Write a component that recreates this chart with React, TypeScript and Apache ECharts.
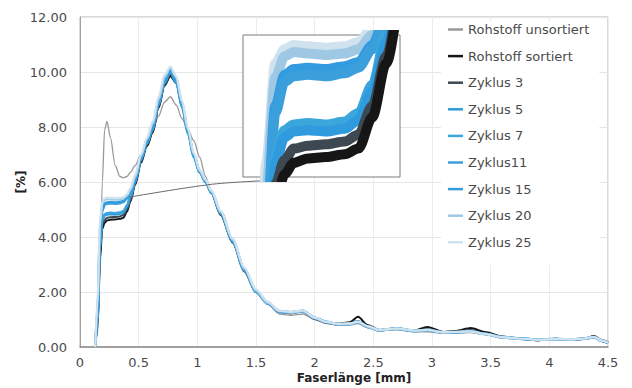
import React, { useEffect, useRef } from "react";
import * as echarts from "echarts";

const xs = [0.13, 0.15, 0.17, 0.19, 0.21, 0.23, 0.26, 0.30, 0.34, 0.37, 0.40, 0.43, 0.47, 0.52, 0.57, 0.62, 0.67, 0.72, 0.77, 0.82, 0.87, 0.92, 0.97, 1.02, 1.07, 1.12, 1.20, 1.30, 1.40, 1.50, 1.60, 1.70, 1.80, 1.90, 2.00, 2.10, 2.20, 2.30, 2.37, 2.45, 2.55, 2.70, 2.85, 2.96, 3.10, 3.20, 3.33, 3.45, 3.60, 3.75, 3.90, 4.05, 4.20, 4.30, 4.38, 4.45, 4.50];

const rohUnsortiert = [0, 0.5, 2.5, 6.0, 7.9, 8.2, 7.6, 6.6, 6.2, 6.15, 6.2, 6.35, 6.6, 7.0, 7.5, 7.9, 8.4, 8.9, 9.1, 8.8, 8.3, 7.9, 7.5, 6.9, 6.2, 5.6, 4.8, 3.8, 2.8, 2.0, 1.55, 1.2, 1.15, 1.2, 1.0, 0.85, 0.8, 0.8, 0.85, 0.7, 0.6, 0.62, 0.55, 0.55, 0.5, 0.5, 0.52, 0.45, 0.35, 0.3, 0.25, 0.28, 0.25, 0.28, 0.33, 0.2, 0.12];
const rohSortiert = [0, 0.8, 3.2, 4.3, 4.52, 4.6, 4.63, 4.64, 4.66, 4.7, 4.92, 5.3, 5.9, 6.7, 7.3, 7.8, 8.7, 9.5, 9.85, 9.6, 8.8, 7.9, 7.0, 6.4, 6.0, 5.6, 4.8, 3.85, 2.8, 2.0, 1.6, 1.3, 1.25, 1.3, 1.05, 0.9, 0.85, 0.9, 1.1, 0.8, 0.62, 0.68, 0.6, 0.73, 0.55, 0.58, 0.69, 0.55, 0.38, 0.3, 0.25, 0.3, 0.27, 0.3, 0.4, 0.25, 0.18];
const zyklus3 = [0, 0.9, 3.4, 4.45, 4.62, 4.7, 4.72, 4.73, 4.75, 4.8, 5.0, 5.35, 5.95, 6.75, 7.35, 7.85, 8.75, 9.55, 9.9, 9.6, 8.75, 7.85, 6.95, 6.35, 6.0, 5.6, 4.8, 3.8, 2.75, 2.0, 1.6, 1.28, 1.22, 1.3, 1.02, 0.88, 0.8, 0.85, 0.95, 0.75, 0.6, 0.66, 0.58, 0.65, 0.52, 0.55, 0.62, 0.5, 0.36, 0.3, 0.25, 0.28, 0.26, 0.3, 0.36, 0.22, 0.15];
const zyklus5 = [0, 1.0, 3.6, 4.6, 4.78, 4.82, 4.83, 4.82, 4.84, 4.9, 5.1, 5.45, 6.0, 6.8, 7.4, 7.9, 8.8, 9.6, 10.0, 9.6, 8.7, 7.75, 6.9, 6.35, 6.0, 5.6, 4.85, 3.85, 2.8, 2.0, 1.58, 1.28, 1.25, 1.3, 1.05, 0.9, 0.82, 0.84, 0.92, 0.74, 0.6, 0.66, 0.58, 0.62, 0.52, 0.54, 0.58, 0.48, 0.35, 0.3, 0.26, 0.28, 0.27, 0.3, 0.36, 0.22, 0.15];
const zyklus7 = [0, 1.1, 3.7, 4.65, 4.83, 4.87, 4.88, 4.87, 4.89, 4.95, 5.15, 5.5, 6.05, 6.85, 7.45, 7.95, 8.85, 9.65, 10.05, 9.65, 8.75, 7.8, 6.95, 6.4, 6.05, 5.65, 4.9, 3.9, 2.85, 2.05, 1.6, 1.3, 1.27, 1.32, 1.07, 0.92, 0.84, 0.86, 0.93, 0.76, 0.62, 0.68, 0.6, 0.63, 0.54, 0.55, 0.57, 0.48, 0.36, 0.31, 0.27, 0.29, 0.28, 0.31, 0.37, 0.23, 0.16];
const zyklus11 = [0, 1.3, 4.0, 4.95, 5.17, 5.21, 5.22, 5.21, 5.23, 5.27, 5.4, 5.62, 6.1, 6.85, 7.45, 8.0, 8.9, 9.7, 10.05, 9.7, 8.8, 7.8, 6.9, 6.35, 6.0, 5.6, 4.85, 3.85, 2.8, 2.0, 1.58, 1.27, 1.24, 1.3, 1.05, 0.9, 0.82, 0.83, 0.9, 0.73, 0.6, 0.66, 0.58, 0.6, 0.52, 0.53, 0.56, 0.47, 0.35, 0.3, 0.26, 0.28, 0.27, 0.3, 0.35, 0.22, 0.15];
const zyklus15 = [0, 1.4, 4.1, 5.0, 5.22, 5.26, 5.27, 5.26, 5.28, 5.31, 5.43, 5.65, 6.12, 6.88, 7.5, 8.05, 8.95, 9.75, 10.1, 9.75, 8.85, 7.85, 6.95, 6.4, 6.05, 5.65, 4.9, 3.9, 2.85, 2.05, 1.62, 1.3, 1.26, 1.32, 1.06, 0.91, 0.83, 0.85, 0.91, 0.75, 0.61, 0.67, 0.59, 0.62, 0.53, 0.54, 0.57, 0.48, 0.36, 0.31, 0.27, 0.29, 0.28, 0.31, 0.37, 0.23, 0.16];
const zyklus20 = [0, 1.6, 4.4, 5.2, 5.35, 5.38, 5.37, 5.36, 5.37, 5.4, 5.5, 5.72, 6.18, 6.95, 7.55, 8.1, 9.0, 9.8, 10.15, 9.8, 8.9, 7.9, 7.0, 6.4, 6.05, 5.65, 4.9, 3.9, 2.85, 2.05, 1.6, 1.3, 1.25, 1.3, 1.05, 0.9, 0.82, 0.84, 0.9, 0.74, 0.6, 0.66, 0.58, 0.61, 0.52, 0.54, 0.56, 0.47, 0.35, 0.3, 0.26, 0.28, 0.27, 0.3, 0.36, 0.22, 0.15];
const zyklus25 = [0, 1.8, 4.6, 5.3, 5.4, 5.43, 5.42, 5.41, 5.42, 5.45, 5.55, 5.78, 6.25, 7.0, 7.6, 8.2, 9.1, 9.9, 10.2, 9.85, 8.95, 7.95, 7.05, 6.45, 6.1, 5.7, 4.95, 3.95, 2.9, 2.1, 1.65, 1.32, 1.28, 1.33, 1.07, 0.92, 0.84, 0.86, 0.92, 0.76, 0.62, 0.68, 0.6, 0.62, 0.54, 0.55, 0.57, 0.48, 0.36, 0.31, 0.27, 0.29, 0.28, 0.31, 0.37, 0.23, 0.16];

const seriesNames = ["Rohstoff unsortiert", "Rohstoff sortiert", "Zyklus 3", "Zyklus 5", "Zyklus 7", "Zyklus11", "Zyklus 15", "Zyklus 20", "Zyklus 25"];
const seriesValues = [rohUnsortiert, rohSortiert, zyklus3, zyklus5, zyklus7, zyklus11, zyklus15, zyklus20, zyklus25];
const seriesColors = ["#999999", "#161616", "#3d4852", "#2f9ade", "#3aa6dc", "#3b9fdc", "#339ce0", "#9fc8e4", "#cfe2ee"];
const seriesWidths = [1.3, 2, 2, 2.4, 2.4, 2.4, 2.4, 2.2, 2.2];

const yTicks = [0, 2, 4, 6, 8, 10, 12];
const xTicks = [0, 0.5, 1, 1.5, 2, 2.5, 3, 3.5, 4, 4.5];

// connector from the zoomed region to the inset
const connectorPoints = [[0.42, 5.45], [1.13, 5.92], [1.68, 6.07]];
// zoom window shown in the inset
const insetX = [0.12, 0.46];
const insetY = [4.5, 5.5];

const FONT = "DejaVu Sans";

export default function App() {
  const ref = useRef<HTMLDivElement>(null);
  useEffect(() => {
    const chart = echarts.init(ref.current!, null, { renderer: "svg" });
    const mainSeries = seriesNames.map((name, i) => ({
      name,
      type: "line",
      xAxisIndex: 0,
      yAxisIndex: 0,
      data: xs.map((x, j) => [x, seriesValues[i][j]]),
      symbol: "none",
      smooth: 0.3,
      smoothMonotone: "x",
      color: seriesColors[i],
      lineStyle: { color: seriesColors[i], width: seriesWidths[i] },
      z: 2,
    }));
    const insetOrder = [8, 7, 6, 5, 4, 3, 2, 1];
    const insetSeries = insetOrder.map((i) => ({
      name: seriesNames[i],
      type: "line",
      xAxisIndex: 1,
      yAxisIndex: 1,
      data: xs.map((x, j) => [x, seriesValues[i][j]]),
      symbol: "none",
      smooth: 0.3,
      smoothMonotone: "x",
      clip: true,
      color: seriesColors[i],
      lineStyle: { color: seriesColors[i], width: 10 },
      z: 7,
    }));
    const labelStyle = { fontFamily: FONT, fontSize: 13, color: "#4a4a4a" };
    chart.setOption({
      animation: false,
      backgroundColor: "#ffffff",
      textStyle: { fontFamily: FONT },
      grid: [
        { left: 80, top: 17, right: 24, bottom: 41, outerBoundsMode: "none", containLabel: false, show: true, borderColor: "#b5b5b5", borderWidth: 1, backgroundColor: "transparent" },
        { left: 243, top: 35, width: 157, height: 142, outerBoundsMode: "none", containLabel: false, show: true, borderColor: "#7a7a7a", borderWidth: 1, backgroundColor: "#ffffff", z: 5 },
      ],
      xAxis: [
        {
          type: "value",
          gridIndex: 0,
          min: xTicks[0],
          max: xTicks[xTicks.length - 1],
          interval: 0.5,
          name: "Faserlänge [mm]",
          nameLocation: "middle",
          nameGap: 25,
          nameMoveOverlap: false,
          nameTextStyle: { fontFamily: FONT, fontSize: 12, fontWeight: "bold", color: "#222", padding: [0, 0, 0, 20] },
          axisLine: { show: true, lineStyle: { color: "#8a8a8a", width: 1.5 } },
          axisTick: { show: false },
          axisLabel: { ...labelStyle, margin: 9, formatter: (v: number) => String(v) },
          splitLine: { show: true, lineStyle: { color: "#ececec", width: 1 } },
        },
        { type: "value", gridIndex: 1, min: insetX[0], max: insetX[1], show: false, splitLine: { show: false } },
      ],
      yAxis: [
        {
          type: "value",
          gridIndex: 0,
          min: yTicks[0],
          max: yTicks[yTicks.length - 1],
          interval: 2,
          name: "[%]",
          nameLocation: "middle",
          nameGap: 59,
          nameMoveOverlap: false,
          nameTextStyle: { fontFamily: FONT, fontSize: 12, fontWeight: "bold", color: "#222", verticalAlign: "middle" },
          axisLine: { show: true, lineStyle: { color: "#a0a0a0", width: 1 } },
          axisTick: { show: false },
          axisLabel: { ...labelStyle, margin: 13, formatter: (v: number) => v.toFixed(2) },
          splitLine: { show: true, lineStyle: { color: "#e6e6e6", width: 1 } },
        },
        { type: "value", gridIndex: 1, min: insetY[0], max: insetY[1], show: false, splitLine: { show: false } },
      ],
      legend: {
        orient: "vertical",
        left: 441,
        top: 21,
        padding: [2, 10, 16, 7],
        itemGap: 13.6,
        itemWidth: 15,
        itemHeight: 2.5,
        icon: "rect",
        borderWidth: 0,
        backgroundColor: "#ffffff",
        textStyle: { fontFamily: FONT, fontSize: 13, color: "#4a4a4a" },
        data: seriesNames,
        z: 8,
      },
      series: [
        ...mainSeries,
        {
          name: "connector",
          type: "line",
          xAxisIndex: 0,
          yAxisIndex: 0,
          data: connectorPoints,
          symbol: "none",
          smooth: 0.3,
          lineStyle: { color: "#6a6a6a", width: 1 },
          z: 3,
        },
        ...insetSeries,
      ],
    });
    return () => chart.dispose();
  }, []);
  return <div ref={ref} style={{ width: 632, height: 388, position: "absolute", left: 0, top: 0 }} />;
}
